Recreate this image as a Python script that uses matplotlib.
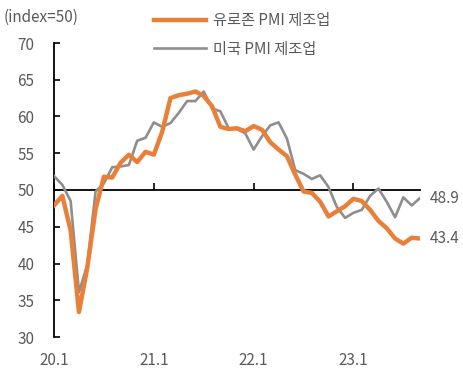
import matplotlib
matplotlib.use('Agg')
import matplotlib.pyplot as plt
import numpy as np

plt.rcParams['font.family'] = ['Noto Sans CJK KR', 'DejaVu Sans']
plt.rcParams['font.weight'] = 'light'

# monthly, 2020.1 ~ 2023.9
euro = [47.9, 49.2, 44.5, 33.4, 39.4, 47.4, 51.8, 51.7, 53.7, 54.8, 53.8, 55.2,
        54.8, 57.9, 62.5, 62.9, 63.1, 63.4, 62.8, 61.4, 58.6, 58.3, 58.4, 58.0,
        58.7, 58.2, 56.5, 55.5, 54.6, 52.1, 49.8, 49.6, 48.4, 46.4, 47.1, 47.8,
        48.8, 48.5, 47.3, 45.8, 44.8, 43.4, 42.7, 43.5, 43.4]
us = [51.9, 50.7, 48.5, 36.1, 39.8, 49.8, 50.9, 53.1, 53.2, 53.4, 56.7, 57.1,
      59.2, 58.6, 59.1, 60.5, 62.1, 62.1, 63.4, 61.1, 60.7, 58.4, 58.3, 57.7,
      55.5, 57.3, 58.8, 59.2, 57.0, 52.7, 52.2, 51.5, 52.0, 50.4, 47.7, 46.2,
      46.9, 47.3, 49.2, 50.2, 48.4, 46.3, 49.0, 47.9, 48.9]
xtick_pos = [0, 12, 24, 36]
xtick_labels = ['20.1', '21.1', '22.1', '23.1']
yticks = [30, 35, 40, 45, 50, 55, 60, 65, 70]

txt = '#5a5a5a'
orange = '#E8803A'
grey = '#8E8E8E'

fig = plt.figure(figsize=(4.63, 3.89), dpi=100)
ax = fig.add_axes([54/463, 1-337/389, (420-54)/463, (337-43)/389])

x = np.arange(len(euro))
ax.plot(x, us, color=grey, lw=1.9, label='미국 PMI 제조업', zorder=3)
ax.plot(x, euro, color=orange, lw=3.2, label='유로존 PMI 제조업', zorder=4)

ax.set_xlim(0, 44)
ax.set_ylim(30, 70)
ax.spines['top'].set_visible(False)
ax.spines['right'].set_visible(False)
ax.spines['left'].set_color('black')
ax.spines['left'].set_linewidth(1.3)
ax.spines['bottom'].set_position(('data', 50))
ax.spines['bottom'].set_linewidth(1.3)
ax.spines['bottom'].set_zorder(2)

ax.set_yticks(yticks)
ax.tick_params(axis='y', direction='in', length=4, width=1.2, colors='black',
               labelcolor=txt, labelsize=11, pad=14)
ax.set_xticks(xtick_pos)
ax.tick_params(axis='x', direction='in', length=5, width=1.2, labelbottom=False)

for p, lab in zip(xtick_pos, xtick_labels):
    ax.text(p, -0.08, lab, transform=ax.get_xaxis_transform(), ha='center',
            va='center', color=txt, fontsize=11)

ax.text(ax.get_xlim()[1] + 1.2, us[-1], f'{us[-1]}', color=txt, fontsize=11, va='center', clip_on=False)
ax.text(ax.get_xlim()[1] + 1.2, euro[-1], f'{euro[-1]}', color=txt, fontsize=11, va='center', clip_on=False)

fig.text(4/463, 1-17/389, '(index=50)', color=txt, fontsize=11, va='center')

h, l = ax.get_legend_handles_labels()
fig.legend(h[::-1], l[::-1], loc='upper left', bbox_to_anchor=(148/463, 1-6/389),
           frameon=False, fontsize=11, handlelength=3.4, handletextpad=0.45,
           labelspacing=0.75, labelcolor=txt, borderaxespad=0)

fig.savefig('out.png', dpi=100)
